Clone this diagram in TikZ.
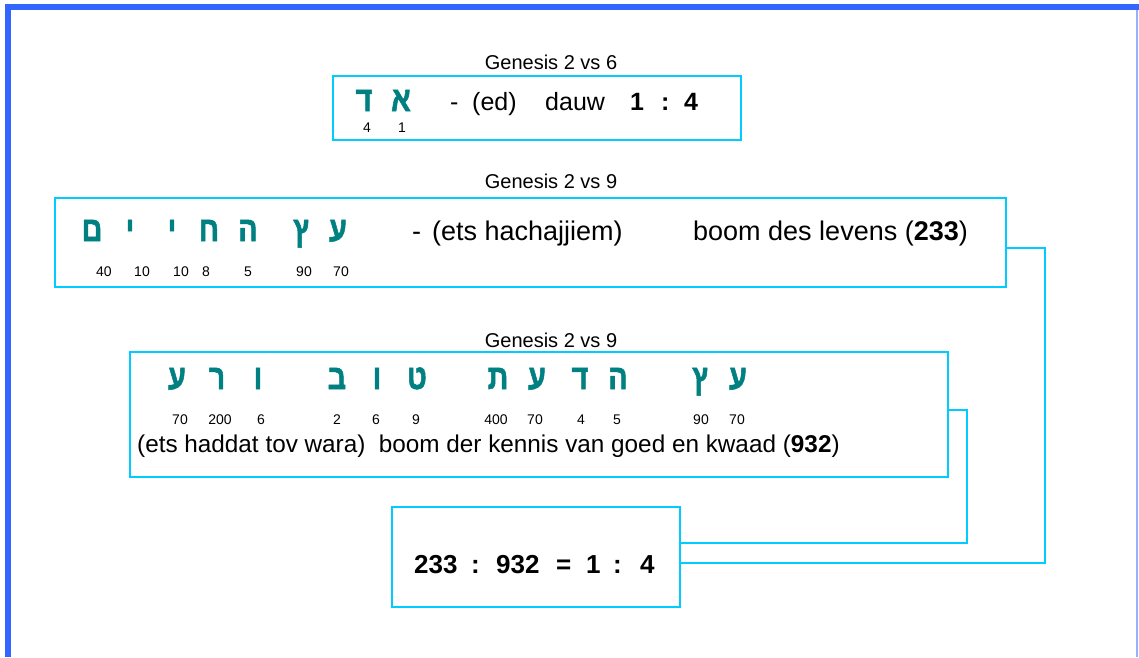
\documentclass[tikz,border=0pt]{standalone}
\usepackage{fontspec}
\setmainfont{Liberation Sans}
\newfontfamily\hebfont[Script=Hebrew,FakeStretch=0.82,BoldFeatures={FakeBold=1.5}]{Liberation Sans}
\definecolor{framebl}{RGB}{51,102,255}
\definecolor{framelt}{RGB}{150,175,255}
\definecolor{boxcy}{RGB}{0,204,255}
\definecolor{hebteal}{RGB}{0,128,128}
\tikzset{
  box/.style={draw=boxcy, line width=1.6pt, inner sep=0pt},
  conn/.style={draw=boxcy, line width=1.6pt},
  heb/.style={text=hebteal, font=\hebfont\bfseries\fontsize{35}{38}\selectfont, anchor=base, inner sep=0pt},
  num/.style={font=\fontsize{14}{16}\selectfont, anchor=base, inner sep=0pt},
  txt/.style={font=\fontsize{25}{28}\selectfont, anchor=base west, inner sep=0pt},
  txtb/.style={font=\fontsize{27}{30}\selectfont, anchor=base west, inner sep=0pt},
  txtc/.style={font=\fontsize{24.3}{27}\selectfont, anchor=base west, inner sep=0pt},
  res/.style={font=\bfseries\fontsize{26}{29}\selectfont, anchor=base west, inner sep=0pt},
  ttl/.style={font=\fontsize{20}{22}\selectfont, anchor=base, inner sep=0pt},
}
\begin{document}
\begin{tikzpicture}[x=1pt,y=-1pt]
\useasboundingbox (0,0) rectangle (1139,657);
% frame
\fill[framebl] (5,4) rectangle (1139,10);
\fill[framebl] (5,4) rectangle (11,657);
\draw[framelt, line width=1.5pt] (1137,10) -- (1137,657);
% boxes
\node[box, minimum width=408pt, minimum height=64pt] (b1) at (537,108) {};
\node[box, minimum width=951pt, minimum height=89pt] (b2) at (530.5,242.5) {};
\node[box, minimum width=818pt, minimum height=125pt] (b3) at (539,414.5) {};
\node[box, minimum width=288pt, minimum height=100pt] (b4) at (536,557) {};
% titles
\node[ttl] (t1) at (551,69) {Genesis 2 vs 6};
\node[ttl] (t2) at (551,188) {Genesis 2 vs 9};
\node[ttl] (t3) at (551,347) {Genesis 2 vs 9};
% box 1
\node[heb] (h11) at (364,111) {ד};
\node[heb] (h12) at (401,111) {א};
\node[num] (n11) at (367,132) {4};
\node[num] (n12) at (402,132) {1};
\node[txt] (x11) at (450,110) {-};
\node[txt] (x12) at (472,110) {(ed)};
\node[txt] (x13) at (545,110) {dauw};
\node[txt] (x14) at (630,110) {\bfseries 1};
\node[txt] (x15) at (661,110) {\bfseries :};
\node[txt] (x16) at (684,110) {\bfseries 4};
% box 2
\node[heb] (h21) at (92,241) {ם};
\node[heb] (h22) at (130,241) {י};
\node[heb] (h23) at (172,241) {י};
\node[heb] (h24) at (209,241) {ח};
\node[heb] (h25) at (248,241) {ה};
\node[heb] (h26) at (301,241) {ץ};
\node[heb] (h27) at (338,241) {ע};
\node[num] (n21) at (104,276) {40};
\node[num] (n22) at (142,276) {10};
\node[num] (n23) at (181,276) {10};
\node[num] (n24) at (206,276) {8};
\node[num] (n25) at (248,276) {5};
\node[num] (n26) at (304,276) {90};
\node[num] (n27) at (341,276) {70};
\node[txtb] (x21) at (412,240) {-};
\node[txtb] (x22) at (432,240) {(ets hachajjiem)};
\node[txtb] (x23) at (693,240) {boom des levens (\textbf{233})};
% box 3
\node[heb] (h31) at (177,389) {ע};
\node[heb] (h32) at (217,389) {ר};
\node[heb] (h33) at (258,389) {ו};
\node[heb] (h34) at (337,389) {ב};
\node[heb] (h35) at (377,389) {ו};
\node[heb] (h36) at (417,389) {ט};
\node[heb] (h37) at (498,389) {ת};
\node[heb] (h38) at (537,389) {ע};
\node[heb] (h39) at (580,389) {ד};
\node[heb] (h310) at (618,389) {ה};
\node[heb] (h311) at (700,389) {ץ};
\node[heb] (h312) at (738,389) {ע};
\node[num] (n31) at (180,424) {70};
\node[num] (n32) at (220,424) {200};
\node[num] (n33) at (261,424) {6};
\node[num] (n34) at (337,424) {2};
\node[num] (n35) at (376,424) {6};
\node[num] (n36) at (416,424) {9};
\node[num] (n37) at (496,424) {400};
\node[num] (n38) at (535,424) {70};
\node[num] (n39) at (581,424) {4};
\node[num] (n310) at (617,424) {5};
\node[num] (n311) at (701,424) {90};
\node[num] (n312) at (737,424) {70};
\node[txtc] (x31) at (137,452) {(ets haddat tov wara)\ \ boom der kennis van goed en kwaad (\textbf{932})};
% box 4
\node[res] (r1) at (414,573) {233};
\node[res] (r2) at (471,573) {:};
\node[res] (r3) at (496,573) {932};
\node[res] (r4) at (556,573) {=};
\node[res] (r5) at (586,573) {1};
\node[res] (r6) at (613,573) {:};
\node[res] (r7) at (640,573) {4};
% connectors
\coordinate (c1) at (1045,563);
\coordinate (c2) at (967,543);
\draw[conn] ([yshift=-5.5pt]b2.east) -| (c1) -- (c1 -| b4.east);
\draw[conn] ([yshift=4.5pt]b3.east) -| (c2) -- (c2 -| b4.east);
\end{tikzpicture}
\end{document}
